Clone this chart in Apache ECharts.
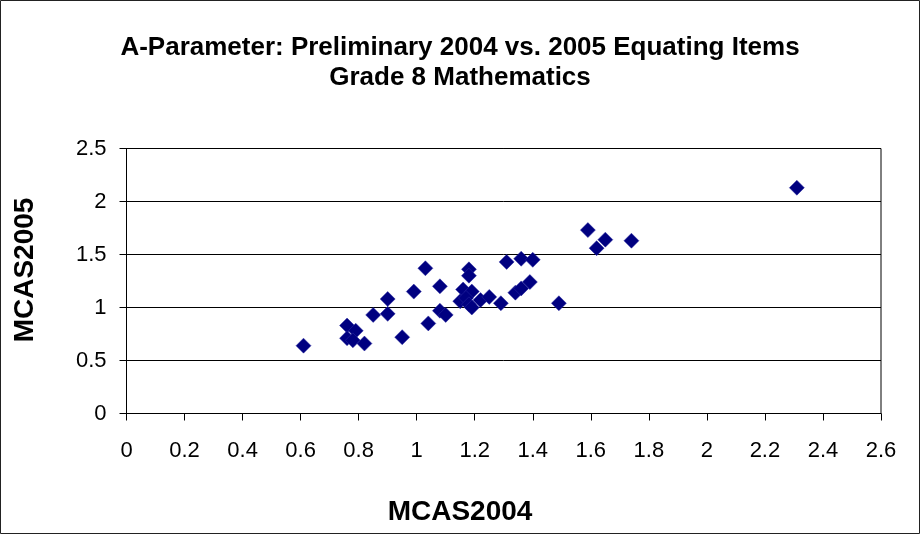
<!DOCTYPE html>
<html>
<head>
<meta charset="utf-8">
<script src="https://cdn.jsdelivr.net/npm/echarts@6/dist/echarts.min.js"></script>
<style>html,body{margin:0;padding:0;background:#fff}#c{width:920px;height:534px}</style>
</head>
<body>
<div id="c"></div>
<script>
const titleLines = ["A-Parameter: Preliminary 2004 vs. 2005 Equating Items", "Grade 8 Mathematics"];
const xName = "MCAS2004";
const yName = "MCAS2005";
const mcas2004 = [0.61,0.76,0.79,0.76,0.78,0.82,0.85,0.90,0.90,0.95,0.99,1.03,1.04,1.08,1.08,1.10,1.18,1.18,1.16,1.19,1.15,1.17,1.18,1.19,1.22,1.25,1.29,1.31,1.36,1.40,1.39,1.34,1.36,1.49,1.59,1.65,1.62,1.74,2.31];
const mcas2005 = [0.64,0.83,0.78,0.71,0.69,0.66,0.93,0.94,1.08,0.72,1.15,1.37,0.85,1.20,0.97,0.93,1.36,1.30,1.17,1.15,1.06,1.09,1.03,1.00,1.07,1.10,1.04,1.43,1.46,1.45,1.24,1.14,1.18,1.04,1.73,1.64,1.56,1.63,2.13];

const points = mcas2004.map((x, i) => [x, mcas2005[i]]);
const chart = echarts.init(document.getElementById('c'));
const font = "'Liberation Sans', Arial, sans-serif";
chart.setOption({
  animation: false,
  backgroundColor: '#fff',
  title: {
    text: titleLines.join('\n'),
    left: 'center',
    top: 28,
    textStyle: { fontFamily: font, fontWeight: 'bold', fontSize: 26, lineHeight: 30, color: '#000' }
  },
  graphic: [{
    type: 'rect', z: 100, silent: true,
    shape: { x: 0.5, y: 0.5, width: 919, height: 533 },
    style: { fill: 'none', stroke: '#222', lineWidth: 1 }
  }, {
    type: 'text', z: 100, silent: true, x: 460, y: 512,
    style: { text: xName, font: "bold 28px 'Liberation Sans', Arial, sans-serif", fill: '#000', align: 'center', verticalAlign: 'middle' }
  }, {
    type: 'text', z: 100, silent: true, x: 25, y: 270, rotation: Math.PI / 2,
    style: { text: yName, font: "bold 28px 'Liberation Sans', Arial, sans-serif", fill: '#000', align: 'center', verticalAlign: 'middle' }
  }],
  grid: { left: 126.5, right: 39, top: 148.5, bottom: 120.5, show: true, borderColor: '#000', borderWidth: 1, backgroundColor: '#fff' },
  xAxis: {
    type: 'value', min: 0, max: 2.6, interval: 0.2,
    axisLine: { show: true, onZero: false, lineStyle: { color: '#000', width: 1 } },
    axisTick: { show: true, inside: false, length: 7, lineStyle: { color: '#000' } },
    axisLabel: { fontFamily: font, fontSize: 22, color: '#000', margin: 26 },
    splitLine: { show: false }
  },
  yAxis: {
    type: 'value', min: 0, max: 2.5, interval: 0.5,
    axisLine: { show: true, onZero: false, lineStyle: { color: '#000', width: 1 } },
    axisTick: { show: true, inside: false, length: 7, lineStyle: { color: '#000' } },
    axisLabel: { fontFamily: font, fontSize: 22, color: '#000', margin: 20 },
    splitLine: { show: true, lineStyle: { color: '#000', width: 1 } }
  },
  series: [{
    type: 'scatter',
    data: points,
    symbol: 'diamond',
    symbolSize: 15,
    itemStyle: { color: '#000080', borderColor: '#2a2aa0', borderWidth: 0.5, opacity: 1 }
  }]
});
</script>
</body>
</html>
